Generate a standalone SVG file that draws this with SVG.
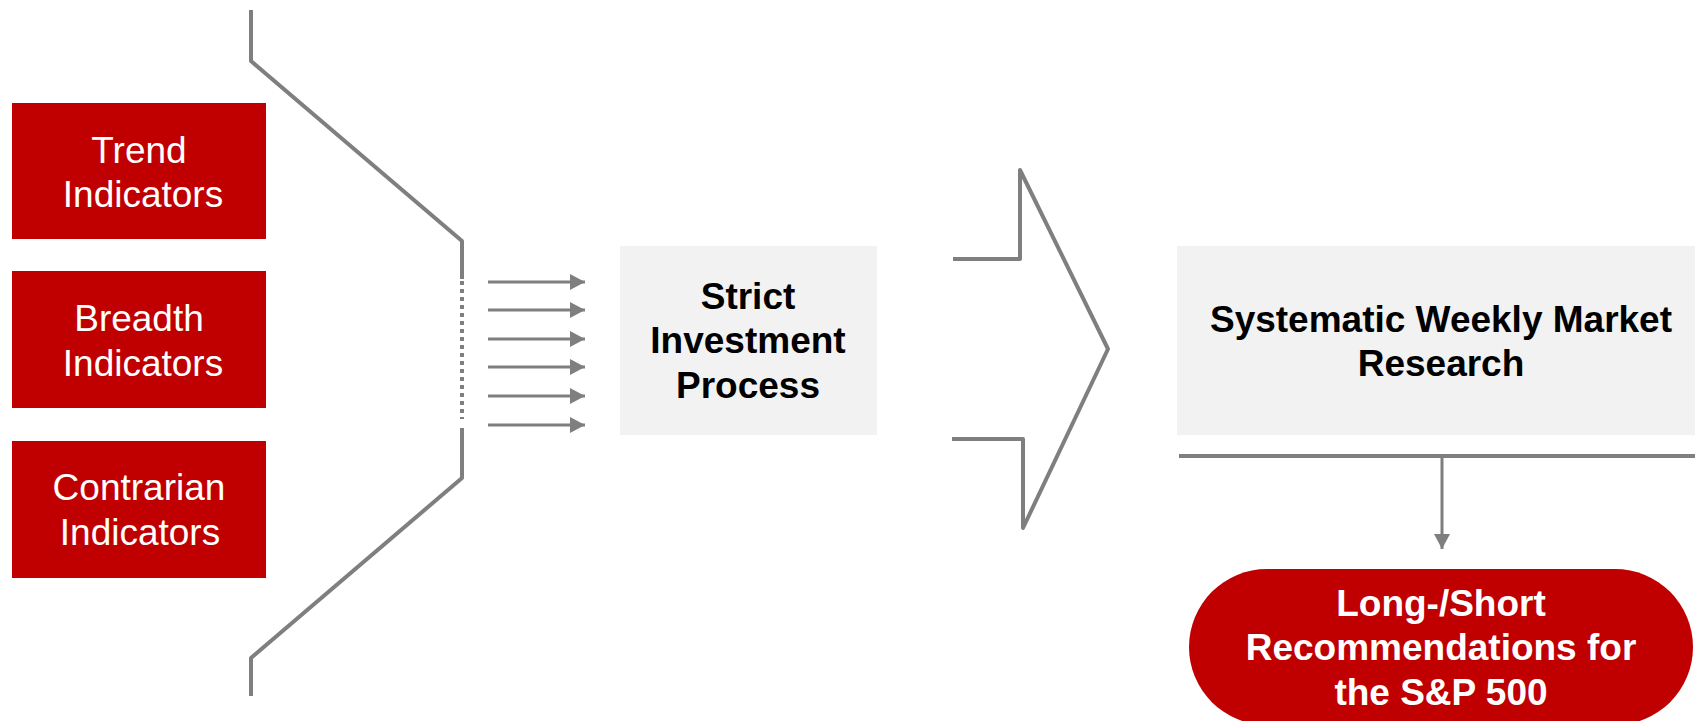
<svg xmlns="http://www.w3.org/2000/svg" width="1695" height="721" viewBox="0 0 1695 721">
<style>
.red{fill:#C00000}
.gray{fill:#F2F2F2}
.ln{fill:none;stroke:#7F7F7F;stroke-width:4;stroke-linejoin:round}
.arr{stroke:#7F7F7F;stroke-width:3}
.tw{font-family:"Liberation Sans",Arial,sans-serif;font-size:37px;fill:#FFFFFF;text-anchor:middle}
.tb{font-family:"Liberation Sans",Arial,sans-serif;font-size:37px;font-weight:bold;fill:#000000;text-anchor:middle}
.twb{font-family:"Liberation Sans",Arial,sans-serif;font-size:37px;font-weight:bold;fill:#FFFFFF;text-anchor:middle}
</style>
<defs>
<marker id="ah" markerUnits="userSpaceOnUse" markerWidth="16" markerHeight="16" refX="15" refY="8" orient="auto">
<path d="M0,0 L15,8 L0,16 Z" fill="#7F7F7F"/>
</marker>
</defs>
<g id="trend">
<rect class="red" x="12" y="103" width="254" height="136"/>
<text class="tw" x="139" y="163">Trend</text>
<text class="tw" x="143" y="207">Indicators</text>
</g>
<g id="breadth">
<rect class="red" x="12" y="271" width="254" height="137"/>
<text class="tw" x="139" y="331">Breadth</text>
<text class="tw" x="143" y="376">Indicators</text>
</g>
<g id="contrarian">
<rect class="red" x="12" y="441" width="254" height="137"/>
<text class="tw" x="139" y="500">Contrarian</text>
<text class="tw" x="140" y="545">Indicators</text>
</g>
<g id="strict">
<rect class="gray" x="620" y="246" width="257" height="189"/>
<text class="tb" x="748" y="309">Strict</text>
<text class="tb" x="748" y="353">Investment</text>
<text class="tb" x="748" y="398">Process</text>
</g>
<g id="systematic">
<rect class="gray" x="1177" y="246" width="518" height="189"/>
<text class="tb" x="1441" y="332">Systematic Weekly Market</text>
<text class="tb" x="1441" y="376">Research</text>
</g>
<g id="recommendations">
<rect class="red" x="1189" y="569" width="504" height="156" rx="78" ry="78"/>
<text class="twb" x="1441" y="616">Long-/Short</text>
<text class="twb" x="1441" y="660">Recommendations for</text>
<text class="twb" x="1441" y="705">the S&amp;P 500</text>
</g>
<g id="connectors">
<path class="ln" d="M251,10 L251,61 L462,241 L462,279"/>
<line x1="462" y1="281" x2="462" y2="419" stroke="#7F7F7F" stroke-width="4" stroke-dasharray="4 4"/>
<path class="ln" d="M462,428 L462,478 L251,658 L251,696"/>
<line class="arr" x1="488" y1="282" x2="585" y2="282" marker-end="url(#ah)"/>
<line class="arr" x1="488" y1="310" x2="585" y2="310" marker-end="url(#ah)"/>
<line class="arr" x1="488" y1="339" x2="585" y2="339" marker-end="url(#ah)"/>
<line class="arr" x1="488" y1="367" x2="585" y2="367" marker-end="url(#ah)"/>
<line class="arr" x1="488" y1="396" x2="585" y2="396" marker-end="url(#ah)"/>
<line class="arr" x1="488" y1="425" x2="585" y2="425" marker-end="url(#ah)"/>
<path class="ln" d="M953,259 L1020,259 L1020,170 L1108,349 L1023,528 L1023,439 L952,439"/>
<line x1="1179" y1="456" x2="1695" y2="456" stroke="#7F7F7F" stroke-width="4"/>
<line class="arr" x1="1442" y1="456" x2="1442" y2="549" marker-end="url(#ah)"/>
</g>
</svg>
